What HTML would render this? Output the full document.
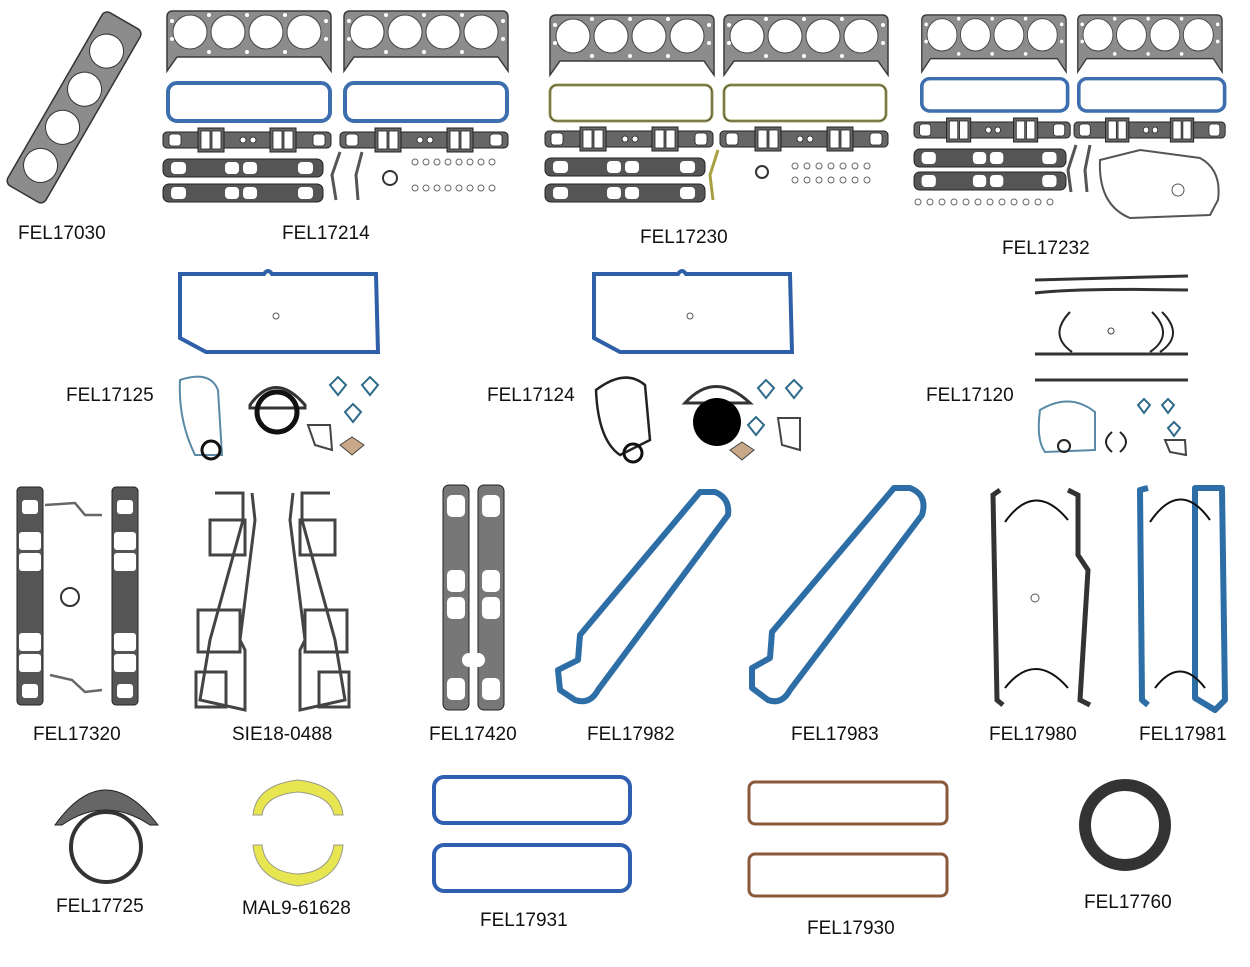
<!DOCTYPE html>
<html><head><meta charset="utf-8"><style>
html,body{margin:0;padding:0;background:#fff;}
svg{display:block}
text{font-family:"Liberation Sans",Arial,sans-serif;font-size:19px;fill:#111;}
</style></head><body>
<svg width="1250" height="967" viewBox="0 0 1250 967" xmlns="http://www.w3.org/2000/svg">
<defs>
 <g id="hg">
  <path d="M2,8 Q2,2 8,2 L160,2 Q166,2 166,8 L166,62 L156,48 L12,48 L2,62 Z" fill="#8c8c8c" stroke="#3a3a3a" stroke-width="1.5"/>
  <circle cx="25" cy="23" r="17" fill="#fff" stroke="#444"/>
  <circle cx="63" cy="23" r="17" fill="#fff" stroke="#444"/>
  <circle cx="101" cy="23" r="17" fill="#fff" stroke="#444"/>
  <circle cx="139" cy="23" r="17" fill="#fff" stroke="#444"/>
  <g fill="#fff"><circle cx="7" cy="12" r="2"/><circle cx="7" cy="30" r="2"/><circle cx="161" cy="12" r="2"/><circle cx="161" cy="30" r="2"/><circle cx="44" cy="43" r="2"/><circle cx="82" cy="43" r="2"/><circle cx="120" cy="43" r="2"/><circle cx="44" cy="6" r="2"/><circle cx="82" cy="6" r="2"/><circle cx="120" cy="6" r="2"/></g>
 </g>
 <g id="vc"><rect x="2" y="2" width="162" height="38" rx="9" fill="none" stroke="#3d6eae" stroke-width="4"/></g>
 <g id="vco"><rect x="2" y="2" width="162" height="36" rx="7" fill="none" stroke="#a8a860" stroke-width="3"/><rect x="2" y="2" width="162" height="36" rx="7" fill="none" stroke="#333" stroke-width="0.8"/></g>
 <g id="im">
  <rect x="0" y="4" width="168" height="16" rx="4" fill="#666" stroke="#222"/>
  <rect x="35" y="0" width="26" height="24" fill="#666" stroke="#222"/>
  <rect x="107" y="0" width="26" height="24" fill="#666" stroke="#222"/>
  <g fill="#fff" stroke="#222" stroke-width="0.8"><rect x="6" y="6" width="12" height="12" rx="3"/><rect x="38" y="3" width="9" height="18"/><rect x="49" y="3" width="9" height="18"/><rect x="110" y="3" width="9" height="18"/><rect x="121" y="3" width="9" height="18"/><rect x="150" y="6" width="12" height="12" rx="3"/><circle cx="80" cy="12" r="3"/><circle cx="90" cy="12" r="3"/></g>
 </g>
 <g id="ex">
  <rect x="0" y="2" width="160" height="18" rx="6" fill="#555" stroke="#222"/>
  <g fill="#fff"><rect x="8" y="5" width="15" height="12" rx="4"/><rect x="62" y="5" width="14" height="12" rx="4"/><rect x="80" y="5" width="14" height="12" rx="4"/><rect x="135" y="5" width="15" height="12" rx="4"/></g>
 </g>
 <g id="pan">
  <path d="M4,6 L88,6 Q92,0 96,6 L200,6 L202,84 L30,84 L4,70 Z" fill="none" stroke="#2e5fa8" stroke-width="4"/>
  <circle cx="100" cy="48" r="3" fill="none" stroke="#555"/>
 </g>
</defs>

<!-- Row 1 -->
<g transform="translate(5,183) rotate(-60)">
 <rect x="0" y="0" width="200" height="44" rx="6" fill="#8c8c8c" stroke="#333" stroke-width="1.5"/>
 <circle cx="33" cy="22" r="17" fill="#fff" stroke="#333"/><circle cx="77" cy="22" r="17" fill="#fff" stroke="#333"/><circle cx="121" cy="22" r="17" fill="#fff" stroke="#333"/><circle cx="165" cy="22" r="17" fill="#fff" stroke="#333"/>
</g>
<text x="18" y="239">FEL17030</text>

<use href="#hg" x="165" y="9"/><use href="#hg" x="342" y="9"/>
<use href="#vc" x="166" y="81"/><use href="#vc" x="343" y="81"/>
<use href="#im" x="163" y="128"/><use href="#im" x="340" y="128"/>
<use href="#ex" x="163" y="157"/><use href="#ex" x="163" y="182"/>
<path d="M340,152 L332,175 L336,200 M362,152 L356,175 L358,200" stroke="#555" stroke-width="3" fill="none"/>
<circle cx="390" cy="178" r="7" fill="none" stroke="#333" stroke-width="2"/>
<g fill="none" stroke="#666"><circle cx="415" cy="162" r="3"/><circle cx="426" cy="162" r="3"/><circle cx="437" cy="162" r="3"/><circle cx="448" cy="162" r="3"/><circle cx="459" cy="162" r="3"/><circle cx="470" cy="162" r="3"/><circle cx="481" cy="162" r="3"/><circle cx="492" cy="162" r="3"/><circle cx="415" cy="188" r="3"/><circle cx="426" cy="188" r="3"/><circle cx="437" cy="188" r="3"/><circle cx="448" cy="188" r="3"/><circle cx="459" cy="188" r="3"/><circle cx="470" cy="188" r="3"/><circle cx="481" cy="188" r="3"/><circle cx="492" cy="188" r="3"/></g>
<text x="282" y="239">FEL17214</text>

<use href="#hg" x="548" y="13"/><use href="#hg" x="722" y="13"/>
<use href="#vco" x="548" y="83"/><use href="#vco" x="722" y="83"/>
<use href="#im" x="545" y="127"/><use href="#im" x="720" y="127"/>
<use href="#ex" x="545" y="156"/><use href="#ex" x="545" y="182"/>
<path d="M718,150 L710,175 L713,200" stroke="#a8a040" stroke-width="3" fill="none"/>
<circle cx="762" cy="172" r="6" fill="none" stroke="#333" stroke-width="2"/>
<g fill="none" stroke="#666"><circle cx="795" cy="166" r="3"/><circle cx="807" cy="166" r="3"/><circle cx="819" cy="166" r="3"/><circle cx="831" cy="166" r="3"/><circle cx="843" cy="166" r="3"/><circle cx="855" cy="166" r="3"/><circle cx="867" cy="166" r="3"/><circle cx="795" cy="180" r="3"/><circle cx="807" cy="180" r="3"/><circle cx="819" cy="180" r="3"/><circle cx="831" cy="180" r="3"/><circle cx="843" cy="180" r="3"/><circle cx="855" cy="180" r="3"/><circle cx="867" cy="180" r="3"/></g>
<text x="640" y="243">FEL17230</text>

<use href="#hg" transform="translate(920,13) scale(0.88,0.95)"/><use href="#hg" transform="translate(1076,13) scale(0.88,0.95)"/>
<g transform="translate(920,77) scale(0.9,0.85)"><use href="#vc"/></g><g transform="translate(1077,77) scale(0.9,0.85)"><use href="#vc"/></g>
<g transform="translate(914,118) scale(0.93,1)"><use href="#im"/></g><g transform="translate(1074,118) scale(0.9,1)"><use href="#im"/></g>
<g transform="translate(914,147) scale(0.95,1)"><use href="#ex"/></g><g transform="translate(914,170) scale(0.95,1)"><use href="#ex"/></g>
<path d="M1076,145 L1068,170 L1071,192 M1090,145 L1085,170 L1087,192" stroke="#555" stroke-width="3" fill="none"/>
<path d="M1100,160 L1140,150 L1200,158 Q1222,170 1218,200 L1210,215 L1130,218 Q1098,205 1100,160 Z" fill="none" stroke="#555" stroke-width="2"/>
<circle cx="1178" cy="190" r="6" fill="none" stroke="#555"/>
<g fill="none" stroke="#666"><circle cx="918" cy="202" r="3"/><circle cx="930" cy="202" r="3"/><circle cx="942" cy="202" r="3"/><circle cx="954" cy="202" r="3"/><circle cx="966" cy="202" r="3"/><circle cx="978" cy="202" r="3"/><circle cx="990" cy="202" r="3"/><circle cx="1002" cy="202" r="3"/><circle cx="1014" cy="202" r="3"/><circle cx="1026" cy="202" r="3"/><circle cx="1038" cy="202" r="3"/><circle cx="1050" cy="202" r="3"/></g>
<text x="1002" y="254">FEL17232</text>

<!-- Row 2 -->
<use href="#pan" x="176" y="268"/>
<path d="M180,380 Q210,370 218,390 L222,455 L195,455 Q178,420 180,380 Z" fill="none" stroke="#5a8aa8" stroke-width="2"/>
<circle cx="211" cy="450" r="9" fill="none" stroke="#111" stroke-width="3"/>
<path d="M250,405 Q275,370 305,405 L305,408 L250,408 Z" fill="none" stroke="#333" stroke-width="3"/>
<circle cx="277" cy="412" r="20" fill="none" stroke="#111" stroke-width="5"/>
<g fill="none" stroke="#2e6a8a" stroke-width="2"><path d="M330,385 l8,-8 l8,8 l-8,10 z"/><path d="M362,385 l8,-8 l8,8 l-8,10 z"/><path d="M345,412 l8,-8 l8,8 l-8,10 z"/></g>
<path d="M308,425 L330,425 L332,450 L315,445 Z" fill="none" stroke="#444" stroke-width="2"/>
<path d="M340,445 l12,-8 l12,8 l-12,10 z" fill="#c8a888" stroke="#444"/>
<text x="66" y="401">FEL17125</text>

<use href="#pan" x="590" y="268"/>
<path d="M596,390 Q625,368 645,385 L650,440 L620,455 Q598,440 596,390 Z" fill="none" stroke="#222" stroke-width="2.5"/>
<circle cx="633" cy="453" r="9" fill="none" stroke="#111" stroke-width="3"/>
<path d="M685,403 Q715,370 750,403 Z" fill="none" stroke="#333" stroke-width="3"/>
<circle cx="717" cy="422" r="24" fill="#000"/>
<g fill="none" stroke="#2e6a8a" stroke-width="2"><path d="M758,388 l8,-8 l8,8 l-8,10 z"/><path d="M786,388 l8,-8 l8,8 l-8,10 z"/><path d="M748,425 l8,-8 l8,8 l-8,10 z"/></g>
<path d="M778,418 L800,418 L800,450 L782,445 Z" fill="none" stroke="#444" stroke-width="2"/>
<path d="M730,450 l12,-8 l12,8 l-12,10 z" fill="#c8a888" stroke="#444"/>
<text x="487" y="401">FEL17124</text>

<g fill="none" stroke="#333" stroke-width="3">
<path d="M1035,280 L1188,276 M1035,293 Q1080,288 1188,290"/>
<path d="M1035,354 L1188,354 M1035,380 L1188,380"/>
</g>
<path d="M1070,312 Q1048,335 1072,352 M1152,312 Q1175,335 1150,352 M1162,312 Q1185,335 1160,352" fill="none" stroke="#222" stroke-width="2"/>
<circle cx="1111" cy="331" r="3" fill="none" stroke="#444"/>
<path d="M1040,410 Q1070,392 1095,412 L1095,450 L1045,452 Q1036,440 1040,410 Z" fill="none" stroke="#5a8aa8" stroke-width="2"/>
<circle cx="1064" cy="446" r="6" fill="none" stroke="#222" stroke-width="2"/>
<path d="M1112,432 Q1100,442 1112,452 M1120,432 Q1132,442 1120,452" fill="none" stroke="#222" stroke-width="2"/>
<g fill="none" stroke="#2e6a8a" stroke-width="2"><path d="M1138,405 l6,-6 l6,6 l-6,8 z"/><path d="M1162,405 l6,-6 l6,6 l-6,8 z"/><path d="M1168,428 l6,-6 l6,6 l-6,8 z"/></g>
<path d="M1165,440 L1185,440 L1186,455 L1170,452 Z" fill="none" stroke="#444" stroke-width="2"/>
<text x="926" y="401">FEL17120</text>

<!-- Row 3 -->
<g fill="#555" stroke="#222">
<rect x="17" y="487" width="26" height="218" rx="4"/><rect x="112" y="487" width="26" height="218" rx="4"/>
</g>
<g fill="#fff"><rect x="22" y="500" width="16" height="14" rx="3"/><rect x="19" y="532" width="22" height="18" rx="3"/><rect x="19" y="553" width="22" height="18" rx="3"/><rect x="19" y="633" width="22" height="18" rx="3"/><rect x="19" y="654" width="22" height="18" rx="3"/><rect x="22" y="684" width="16" height="14" rx="3"/>
<rect x="117" y="500" width="16" height="14" rx="3"/><rect x="114" y="532" width="22" height="18" rx="3"/><rect x="114" y="553" width="22" height="18" rx="3"/><rect x="114" y="633" width="22" height="18" rx="3"/><rect x="114" y="654" width="22" height="18" rx="3"/><rect x="117" y="684" width="16" height="14" rx="3"/></g>
<path d="M45,505 L75,503 L85,515 L102,515 M50,675 L72,680 L85,692 L102,690" fill="none" stroke="#666" stroke-width="2.5"/>
<circle cx="70" cy="597" r="9" fill="none" stroke="#333" stroke-width="2"/>
<text x="33" y="740">FEL17320</text>

<g fill="none" stroke="#444" stroke-width="3">
<path d="M215,493 L243,493 L243,520 L210,640 L200,700 L245,710 L245,650 L240,640 L255,520 L252,493"/>
<rect x="210" y="520" width="35" height="35"/><rect x="198" y="610" width="42" height="42"/><rect x="196" y="672" width="30" height="35"/>
<path d="M330,493 L302,493 L302,520 L335,640 L345,700 L300,710 L300,650 L305,640 L290,520 L293,493"/>
<rect x="300" y="520" width="35" height="35"/><rect x="305" y="610" width="42" height="42"/><rect x="319" y="672" width="30" height="35"/>
</g>
<text x="232" y="740">SIE18-0488</text>

<g fill="#777" stroke="#222"><rect x="443" y="485" width="26" height="225" rx="6"/><rect x="478" y="485" width="26" height="225" rx="6"/></g>
<g fill="#fff"><rect x="447" y="495" width="18" height="22" rx="5"/><rect x="447" y="570" width="18" height="22" rx="5"/><rect x="447" y="597" width="18" height="22" rx="5"/><rect x="447" y="678" width="18" height="22" rx="5"/><circle cx="469" cy="660" r="7"/>
<rect x="482" y="495" width="18" height="22" rx="5"/><rect x="482" y="570" width="18" height="22" rx="5"/><rect x="482" y="597" width="18" height="22" rx="5"/><rect x="482" y="678" width="18" height="22" rx="5"/><circle cx="478" cy="660" r="7"/></g>
<text x="429" y="740">FEL17420</text>

<g fill="none" stroke="#2e6ea6" stroke-width="6" stroke-linejoin="round">
<path d="M715,492 Q730,498 728,515 L598,690 Q590,705 575,700 L560,690 L558,670 L578,660 L580,635 L700,492 Z"/>
<path d="M910,488 Q928,495 922,515 L790,690 Q782,705 768,700 L752,688 L752,668 L770,658 L772,632 L894,488 Z"/>
<path d="M1195,488 L1195,698 L1215,710 L1225,700 L1222,488 Z"/>
<path d="M1148,488 L1140,490 L1142,700 L1148,705"/>
</g>
<text x="587" y="740">FEL17982</text>
<text x="791" y="740">FEL17983</text>

<g fill="none" stroke="#333" stroke-width="5">
<path d="M1000,490 L993,495 L997,700 L1003,705"/>
<path d="M1068,490 L1078,495 L1078,555 L1088,570 L1080,700 L1090,705"/>
</g>
<path d="M1005,522 Q1035,480 1068,520 M1005,688 Q1035,650 1068,688" fill="none" stroke="#111" stroke-width="2"/>
<path d="M1150,522 Q1180,478 1210,520 M1155,688 Q1180,655 1205,688" fill="none" stroke="#111" stroke-width="2"/>
<circle cx="1035" cy="598" r="4" fill="none" stroke="#555"/>
<text x="989" y="740">FEL17980</text>
<text x="1139" y="740">FEL17981</text>

<!-- Row 4 -->
<path d="M55,825 Q105,755 158,825 L150,825 Q105,795 62,825 Z" fill="#666" stroke="#222"/>
<circle cx="106" cy="847" r="35" fill="none" stroke="#333" stroke-width="4"/>
<text x="56" y="912">FEL17725</text>

<path d="M253,815 Q256,785 298,780 Q340,785 343,815 L334,815 Q330,795 298,792 Q265,795 262,815 Z" fill="#e7e650" stroke="#998"/>
<path d="M253,845 Q256,880 298,886 Q340,880 343,845 L334,845 Q330,872 298,874 Q265,872 262,845 Z" fill="#e7e650" stroke="#998"/>
<text x="242" y="914">MAL9-61628</text>

<rect x="434" y="777" width="196" height="46" rx="10" fill="none" stroke="#2f5fb0" stroke-width="4"/>
<rect x="434" y="845" width="196" height="46" rx="10" fill="none" stroke="#2f5fb0" stroke-width="4"/>
<text x="480" y="926">FEL17931</text>

<rect x="749" y="782" width="198" height="42" rx="6" fill="none" stroke="#8a5a3a" stroke-width="3"/>
<rect x="749" y="854" width="198" height="42" rx="6" fill="none" stroke="#8a5a3a" stroke-width="3"/>
<text x="807" y="934">FEL17930</text>

<circle cx="1125" cy="825" r="40" fill="#fff" stroke="#333" stroke-width="12"/>
<text x="1084" y="908">FEL17760</text>
</svg>
</body></html>
